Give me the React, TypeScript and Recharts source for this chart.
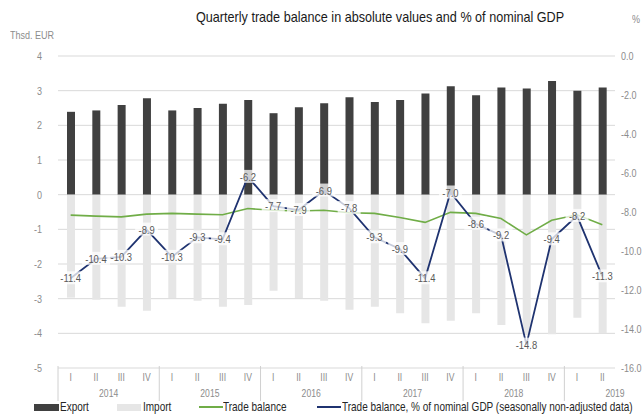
import { Bar, CartesianGrid, ComposedChart, LabelList, Legend, Line, XAxis, YAxis } from "recharts";

const quarterLabels = ["I", "II", "III", "IV", "I", "II", "III", "IV", "I", "II", "III", "IV", "I", "II", "III", "IV", "I", "II", "III", "IV", "I", "II"];
const yearLabels = ["2014", "2014", "2014", "2014", "2015", "2015", "2015", "2015", "2016", "2016", "2016", "2016", "2017", "2017", "2017", "2017", "2018", "2018", "2018", "2018", "2019", "2019"];
const exportValues = [2.39, 2.43, 2.59, 2.78, 2.43, 2.5, 2.62, 2.73, 2.35, 2.52, 2.64, 2.81, 2.67, 2.73, 2.92, 3.13, 2.87, 3.09, 3.06, 3.28, 3.0, 3.09];
const importValues = [-2.97, -3.03, -3.23, -3.35, -2.98, -3.06, -3.23, -3.18, -2.77, -2.98, -3.06, -3.32, -3.23, -3.42, -3.71, -3.64, -3.42, -3.76, -4.05, -4.03, -3.55, -4.0];
const tradeBalance = [-0.59, -0.62, -0.64, -0.56, -0.54, -0.56, -0.58, -0.4, -0.45, -0.47, -0.45, -0.52, -0.54, -0.66, -0.8, -0.51, -0.54, -0.69, -1.16, -0.74, -0.58, -0.87];
const balancePctGdp = [-11.4, -10.4, -10.3, -8.9, -10.3, -9.3, -9.4, -6.2, -7.7, -7.9, -6.9, -7.8, -9.3, -9.9, -11.4, -7.0, -8.6, -9.2, -14.8, -9.4, -8.2, -11.3];
const leftTicks = [-5, -4, -3, -2, -1, 0, 1, 2, 3, 4];
const rightTicks = [0, -2, -4, -6, -8, -10, -12, -14, -16];

const data = quarterLabels.map((q, i) => ({
  key: `${yearLabels[i]}-${q}`,
  export: exportValues[i],
  import: importValues[i],
  balance: tradeBalance[i],
  pct: balancePctGdp[i]
}));

const W = 642;
const H = 414;
const LEFT_W = 58;
const RIGHT_W = 27;
const BAND = (W - LEFT_W - RIGHT_W) / data.length;
const PLOT_BOTTOM = 366;
const FONT = "'Liberation Sans', Arial, sans-serif";
const GREY = "#8c8c8c";
const NARROW = 0.82;

// Liberation Sans squeezed sideways, to look like Arial Narrow
function Narrow({ x, y, anchor = "middle", size = 11, fill = GREY, children }: any) {
  return (
    <text transform={`translate(${x},${y}) scale(${NARROW},1)`} textAnchor={anchor} fontSize={size} fill={fill} fontFamily={FONT}>
      {children}
    </text>
  );
}

function LeftTick({ x, y, payload }: any) {
  return <Narrow x={x} y={y + 4} anchor="end">{payload.value}</Narrow>;
}

function RightTick({ x, y, payload }: any) {
  return <Narrow x={x} y={y + 4} anchor="start">{Number(payload.value).toFixed(1)}</Narrow>;
}

function QuarterTick({ x, payload }: any) {
  return <Narrow x={x} y={381} size={10.5}>{quarterLabels[payload.index]}</Narrow>;
}

function YearTick({ x, payload }: any) {
  const i = payload.index;
  const first = i === 0 || yearLabels[i] !== yearLabels[i - 1];
  const second = i > 0 && yearLabels[i] === yearLabels[i - 1] && (i === 1 || yearLabels[i - 2] !== yearLabels[i]);
  return (
    <g>
      {first && <line x1={x - BAND / 2} x2={x - BAND / 2} y1={PLOT_BOTTOM} y2={401} stroke="#d0d0d0" />}
      {second && <Narrow x={x + BAND / 2} y={397} size={10.5}>{yearLabels[i]}</Narrow>}
    </g>
  );
}

function PctLabel({ x, y, value }: any) {
  const text = Number(value).toFixed(1);
  const w = text.length * 5 + 3;
  return (
    <g>
      <rect x={x - w / 2} y={y - 7} width={w} height={13} fill="#ffffff" fillOpacity={0.75} />
      <Narrow x={x} y={y + 4} size={11.5} fill="#595959">{text}</Narrow>
    </g>
  );
}

const squeeze = (k: number) => ({ transform: `scaleX(${k})`, transformOrigin: "left center", whiteSpace: "nowrap" as const });

function LegendBox() {
  const item = { position: "absolute" as const, top: 0, height: 16, display: "flex", alignItems: "center", whiteSpace: "nowrap" as const };
  return (
    <div style={{ position: "relative", width: W, height: 16, fontFamily: FONT, fontSize: 12.2, color: "#262626" }}>
      <div style={{ ...item, left: 34 }}>
        <span style={{ width: 25, height: 7, background: "#404040", display: "inline-block", marginRight: 1 }} />
        <span style={squeeze(NARROW)}>Export</span>
      </div>
      <div style={{ ...item, left: 117 }}>
        <span style={{ width: 24, height: 7, background: "#e6e6e6", display: "inline-block", marginRight: 2 }} />
        <span style={squeeze(NARROW)}>Import</span>
      </div>
      <div style={{ ...item, left: 199 }}>
        <span style={{ width: 24, height: 2, background: "#70ad47", display: "inline-block" }} />
        <span style={squeeze(NARROW)}>Trade balance</span>
      </div>
      <div style={{ ...item, left: 317 }}>
        <span style={{ width: 24, height: 2, background: "#1f3370", display: "inline-block", marginRight: 1 }} />
        <span style={squeeze(NARROW)}>Trade balance, % of nominal GDP (seasonally non-adjusted data)</span>
      </div>
    </div>
  );
}

export default function App() {
  return (
    <div style={{ position: "absolute", left: 0, top: 0, width: W, height: H, background: "#fff", fontFamily: FONT }}>
      <div style={{ position: "absolute", top: 9, left: 196, fontSize: 14.5, color: "#1a1a1a", ...squeeze(0.87) }}>
        Quarterly trade balance in absolute values and % of nominal GDP
      </div>
      <div style={{ position: "absolute", top: 29, left: 10, fontSize: 11, color: GREY, ...squeeze(NARROW) }}>Thsd. EUR</div>
      <div style={{ position: "absolute", top: 13, left: 632, fontSize: 11, color: GREY, ...squeeze(NARROW) }}>%</div>
      <ComposedChart width={W} height={H} data={data} stackOffset="sign" barSize={8} margin={{ top: 56, right: 0, bottom: 0, left: 0 }}>
        <CartesianGrid vertical={false} stroke="#d9d9d9" yAxisId="left" />
        <XAxis xAxisId="q" dataKey="key" height={14} axisLine={false} tickLine={false} interval={0} tick={<QuarterTick />} />
        <XAxis xAxisId="y" dataKey="key" height={16} axisLine={false} tickLine={false} interval={0} tick={<YearTick />} />
        <YAxis yAxisId="left" orientation="left" width={LEFT_W} domain={[-5, 4]} ticks={leftTicks} interval={0} axisLine={false} tickLine={false} tickSize={0} tickMargin={16} tick={<LeftTick />} />
        <YAxis yAxisId="right" orientation="right" width={RIGHT_W} domain={[-16, 0]} ticks={rightTicks} interval={0} axisLine={false} tickLine={false} tickSize={0} tickMargin={6} tick={<RightTick />} />
        <Bar xAxisId="q" yAxisId="left" dataKey="export" stackId="s" fill="#404040" isAnimationActive={false} />
        <Bar xAxisId="q" yAxisId="left" dataKey="import" stackId="s" fill="#e6e6e6" isAnimationActive={false} />
        <Line xAxisId="q" yAxisId="left" dataKey="balance" stroke="#70ad47" strokeWidth={1.6} dot={false} isAnimationActive={false} />
        <Line xAxisId="q" yAxisId="right" dataKey="pct" stroke="#1f3370" strokeWidth={1.8} dot={false} isAnimationActive={false}>
          <LabelList dataKey="pct" content={<PctLabel />} />
        </Line>
        <Legend verticalAlign="bottom" height={16} content={<LegendBox />} wrapperStyle={{ left: 0, bottom: -1 }} />
      </ComposedChart>
    </div>
  );
}
